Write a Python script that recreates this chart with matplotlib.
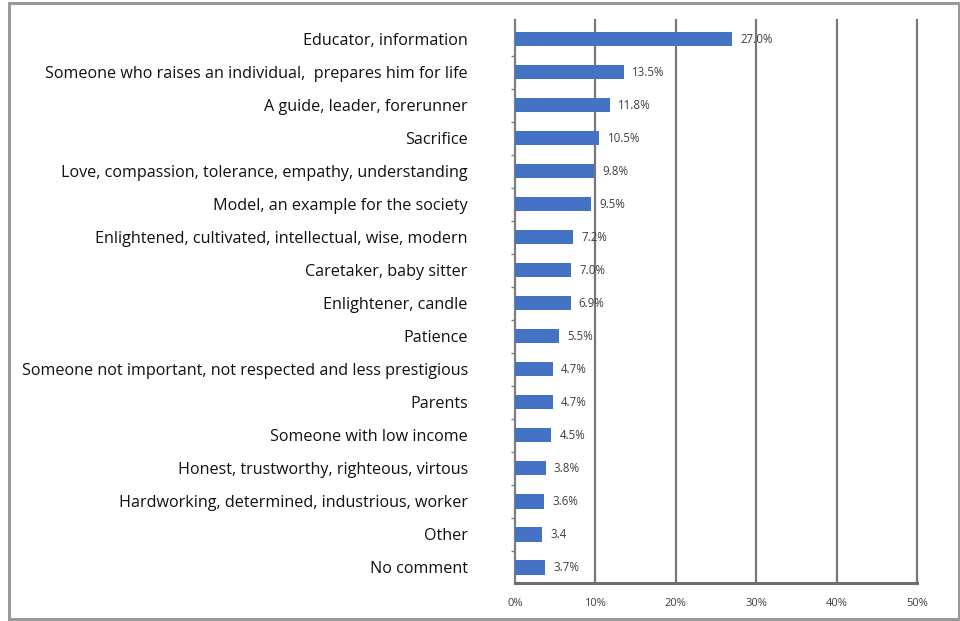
import matplotlib
matplotlib.use("Agg")
import matplotlib.pyplot as plt
from matplotlib.patches import Rectangle
from matplotlib.ticker import FuncFormatter

categories = [
    "Educator, information",
    "Someone who raises an individual,  prepares him for life",
    "A guide, leader, forerunner",
    "Sacrifice",
    "Love, compassion, tolerance, empathy, understanding",
    "Model, an example for the society",
    "Enlightened, cultivated, intellectual, wise, modern",
    "Caretaker, baby sitter",
    "Enlightener, candle",
    "Patience",
    "Someone not important, not respected and less prestigious",
    "Parents",
    "Someone with low income",
    "Honest, trustworthy, righteous, virtous",
    "Hardworking, determined, industrious, worker",
    "Other",
    "No comment",
]
values = [27.0, 13.5, 11.8, 10.5, 9.8, 9.5, 7.2, 7.0, 6.9, 5.5, 4.7, 4.7, 4.5, 3.8, 3.6, 3.4, 3.7]
value_labels = ["27.0%", "13.5%", "11.8%", "10.5%", "9.8%", "9.5%", "7.2%", "7.0%", "6.9%",
                "5.5%", "4.7%", "4.7%", "4.5%", "3.8%", "3.6%", "3.4", "3.7%"]
x_ticks = [0, 10, 20, 30, 40, 50]

plt.rcParams["font.family"] = ["Open Sans", "DejaVu Sans"]

fig = plt.figure(figsize=(9.6, 6.21), dpi=100)
ax = fig.add_axes([0.5365, 0.061, 0.4187, 0.907])

# outer frame around the whole chart
fig.patches.append(Rectangle((9 / 960, 2 / 621), 950 / 960, 616 / 621, transform=fig.transFigure,
                             fill=False, edgecolor="#9a9a9a", linewidth=2.2))

ypos = list(range(len(categories)))
ax.barh(ypos, values, height=0.44, color="#4472C4", zorder=3)

for y, v, lab in zip(ypos, values, value_labels):
    ax.annotate(lab, (v, y), xytext=(6, 0), textcoords="offset points",
                va="center", ha="left", fontsize=8.3, color="#404040", zorder=4)

ax.set_xlim(0, 50)
ax.set_ylim(16.48, -0.58)
ax.set_xticks(x_ticks)
ax.xaxis.set_major_formatter(FuncFormatter(lambda v, p: f"{v:.0f}%"))
ax.tick_params(axis="x", length=0, labelsize=8, labelcolor="#404040", pad=11)

ax.set_yticks(ypos)
ax.set_yticklabels(categories, fontsize=11.6, color="#111111")
ax.tick_params(axis="y", length=0, pad=34)
ax.set_yticks([y + 0.5 for y in ypos[:-1]], minor=True)
ax.tick_params(axis="y", which="minor", length=3, color="#808080", width=1)

ax.grid(axis="x", color="#777777", linewidth=1.6, zorder=1)
for gl in ax.get_xgridlines():
    gl.set_clip_on(False)
ax.set_axisbelow(True)

for side in ["top", "right"]:
    ax.spines[side].set_visible(False)
ax.spines["left"].set_color("#808080")
ax.spines["left"].set_linewidth(1.4)
ax.spines["bottom"].set_color("#6e6e6e")
ax.spines["bottom"].set_linewidth(2.2)

fig.savefig("out.png", dpi=100)
